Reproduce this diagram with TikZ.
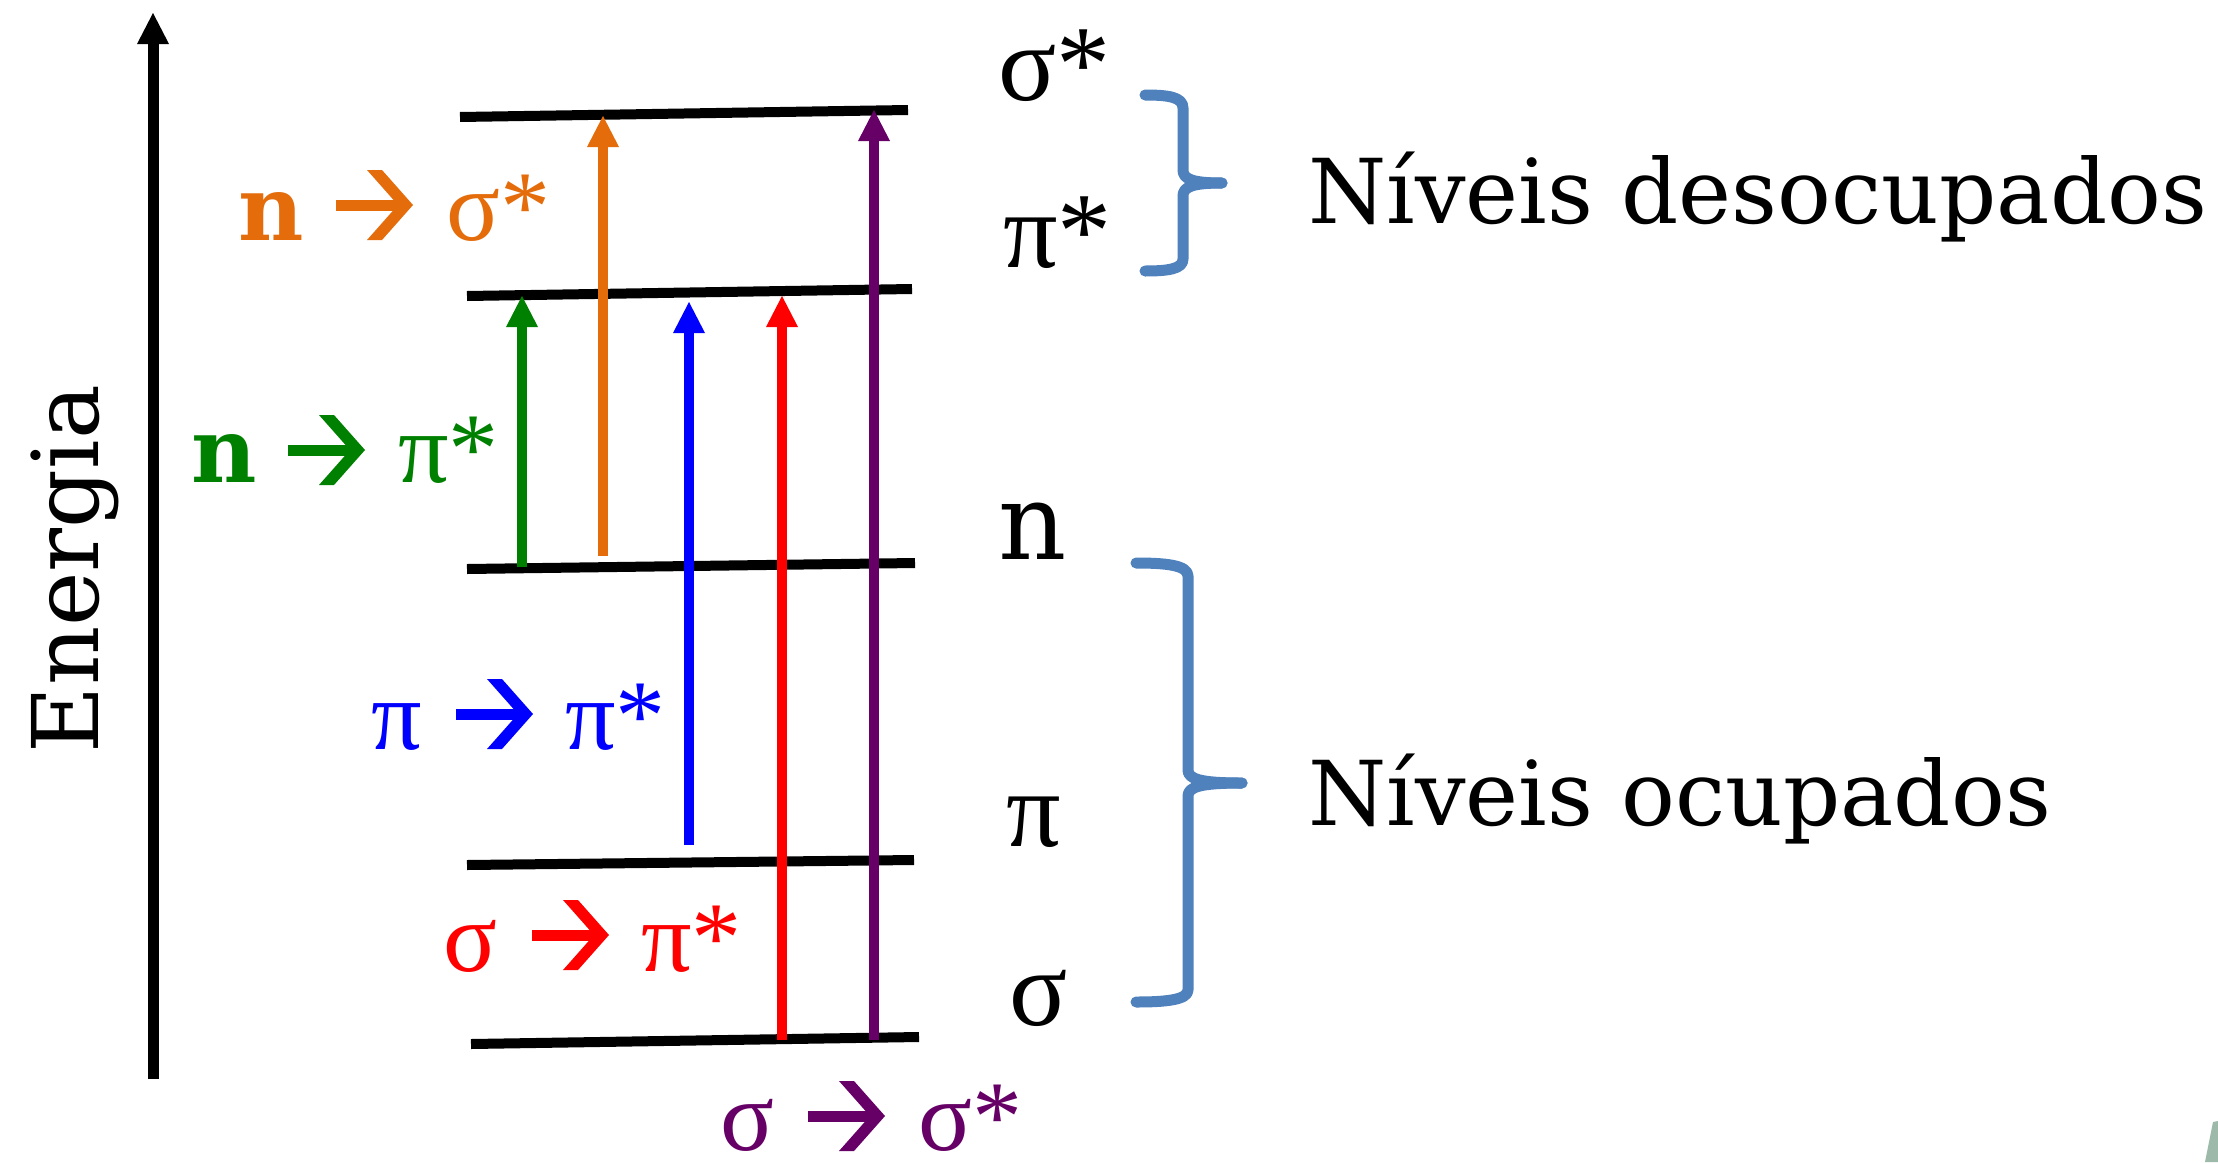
\documentclass[tikz,border=0pt]{standalone}
\usepackage{fontspec}
\setmainfont{DejaVu Serif}
\newfontfamily\grk{Liberation Serif}
\usetikzlibrary{arrows.meta}
\definecolor{cOr}{HTML}{E46C0A}
\definecolor{cGr}{HTML}{008000}
\definecolor{cBl}{HTML}{0000FF}
\definecolor{cRd}{HTML}{FF0000}
\definecolor{cPu}{HTML}{660066}
\definecolor{cBr}{HTML}{4F81BD}
\definecolor{cLogo}{HTML}{9CB9A9}
\tikzset{
  lvl/.style={line width=10pt, black},
  trans/.style={line width=10pt, -{Triangle[width=32pt,length=31pt,line width=0pt]}},
  lab/.style={inner sep=0pt, anchor=base west, font=\fontsize{100}{110}\selectfont\grk},
  nlab/.style={inner sep=0pt, anchor=base west, font=\fontsize{90}{100}\selectfont\bfseries},
  rlab/.style={inner sep=0pt, anchor=base west, font=\fontsize{108}{120}\selectfont\grk},
  rnlab/.style={inner sep=0pt, anchor=base west, font=\fontsize{106}{120}\selectfont},
  big/.style={inner sep=0pt, anchor=base west, font=\fontsize{89.5}{100}\selectfont},
  brc/.style={line width=11pt, cBr, line cap=round, line join=round},
  chev/.pic={\fill (0,-5.5) rectangle (69,5.5);
             \fill (31,-35) -- (46,-35) -- (77,0) -- (46,35) -- (31,35) -- (62,0) -- cycle;}
}
\begin{document}
\begin{tikzpicture}[x=1pt,y=-1pt]
\fill[white] (0,0) rectangle (2218,1162);
\useasboundingbox (0,0) rectangle (2218,1162);

% energy axis
\coordinate (e0) at (153,1079);
\coordinate (e1) at (153,13);
\draw[line width=11pt, -{Triangle[width=32pt,length=31pt,line width=0pt]}] (e0) -- (e1);
\node[rotate=90, inner sep=0pt, font=\fontsize{92}{96}\selectfont] (en) at (75,569) {Energia};

% levels
\coordinate (L1a) at (460,117);  \coordinate (L1b) at (908,110);
\coordinate (L2a) at (467,296);  \coordinate (L2b) at (912,289);
\coordinate (L3a) at (467,569);  \coordinate (L3b) at (915,563);
\coordinate (L4a) at (467,865);  \coordinate (L4b) at (914,860);
\coordinate (L5a) at (471,1044); \coordinate (L5b) at (919,1037);
\draw[lvl] (L1a) -- (L1b);
\draw[lvl] (L2a) -- (L2b);
\draw[lvl] (L3a) -- (L3b);
\draw[lvl] (L4a) -- (L4b);
\draw[lvl] (L5a) -- (L5b);

% transitions
\coordinate (g0) at (522,567); \coordinate (g1) at (522,296);
\coordinate (o0) at (603,556); \coordinate (o1) at (603,116);
\coordinate (b0) at (689,845); \coordinate (b1) at (689,302);
\coordinate (r0) at (782,1040); \coordinate (r1) at (782,296);
\coordinate (p0) at (874,1040); \coordinate (p1) at (874,110);
\draw[trans, cGr] (g0) -- (g1);
\draw[trans, cOr] (o0) -- (o1);
\draw[trans, cBl] (b0) -- (b1);
\draw[trans, cRd] (r0) -- (r1);
\draw[trans, cPu] (p0) -- (p1);

% transition labels
\node[nlab, cOr] (no1) at (238,240) {n};
\pic[color=cOr] at (336,205) {chev};
\node[lab, cOr] (so1) at (446,240) {σ*};

\node[nlab, cGr] (no2) at (191,482) {n};
\pic[color=cGr] at (288,450) {chev};
\node[lab, cGr] (pi2) at (398,482) {π*};

\node[lab, cBl] (pa3) at (371,749) {π};
\pic[color=cBl] at (456,714) {chev};
\node[lab, cBl] (pb3) at (565,749) {π*};

\node[lab, cRd] (sa4) at (443,971) {σ};
\pic[color=cRd] at (532,935) {chev};
\node[lab, cRd] (pb4) at (641,971) {π*};

\node[lab, cPu, text depth=0pt] (sa5) at (720,1150) {σ};
\pic[color=cPu] at (808,1116) {chev};
\node[lab, cPu, text depth=0pt] (sb5) at (918,1150) {σ*};

% level names
\node[rlab] (r1) at (998,100) {σ*};
\node[rlab] (r2) at (1003,267) {π*};
\node[rnlab] (r3) at (998,559) {n};
\node[rlab] (r4) at (1006,846) {π};
\node[rlab] (r5) at (1009,1025) {σ};

% braces
\draw[brc] (1145,95) .. controls (1168,95) and (1183,97) .. (1183,108) -- (1183,170)
  .. controls (1183,179) and (1192,183) .. (1222,183);
\draw[brc] (1222,183) .. controls (1192,183) and (1183,187) .. (1183,196) -- (1183,259)
  .. controls (1183,269) and (1168,271) .. (1145,271);
\draw[brc] (1136,563) .. controls (1165,563) and (1188,565) .. (1188,576) -- (1188,770)
  .. controls (1188,779) and (1200,783) .. (1242,783);
\draw[brc] (1242,783) .. controls (1200,783) and (1188,787) .. (1188,796) -- (1188,990)
  .. controls (1188,1000) and (1165,1002) .. (1136,1002);

% group labels
\node[big] (t1) at (1308,223) {Níveis desocupados};
\node[big] (t2) at (1308,825) {Níveis ocupados};

% corner fragment
\fill[cLogo] (2205,1162) -- (2213,1122) -- (2218,1121) -- (2218,1162) -- cycle;
\end{tikzpicture}
\end{document}
